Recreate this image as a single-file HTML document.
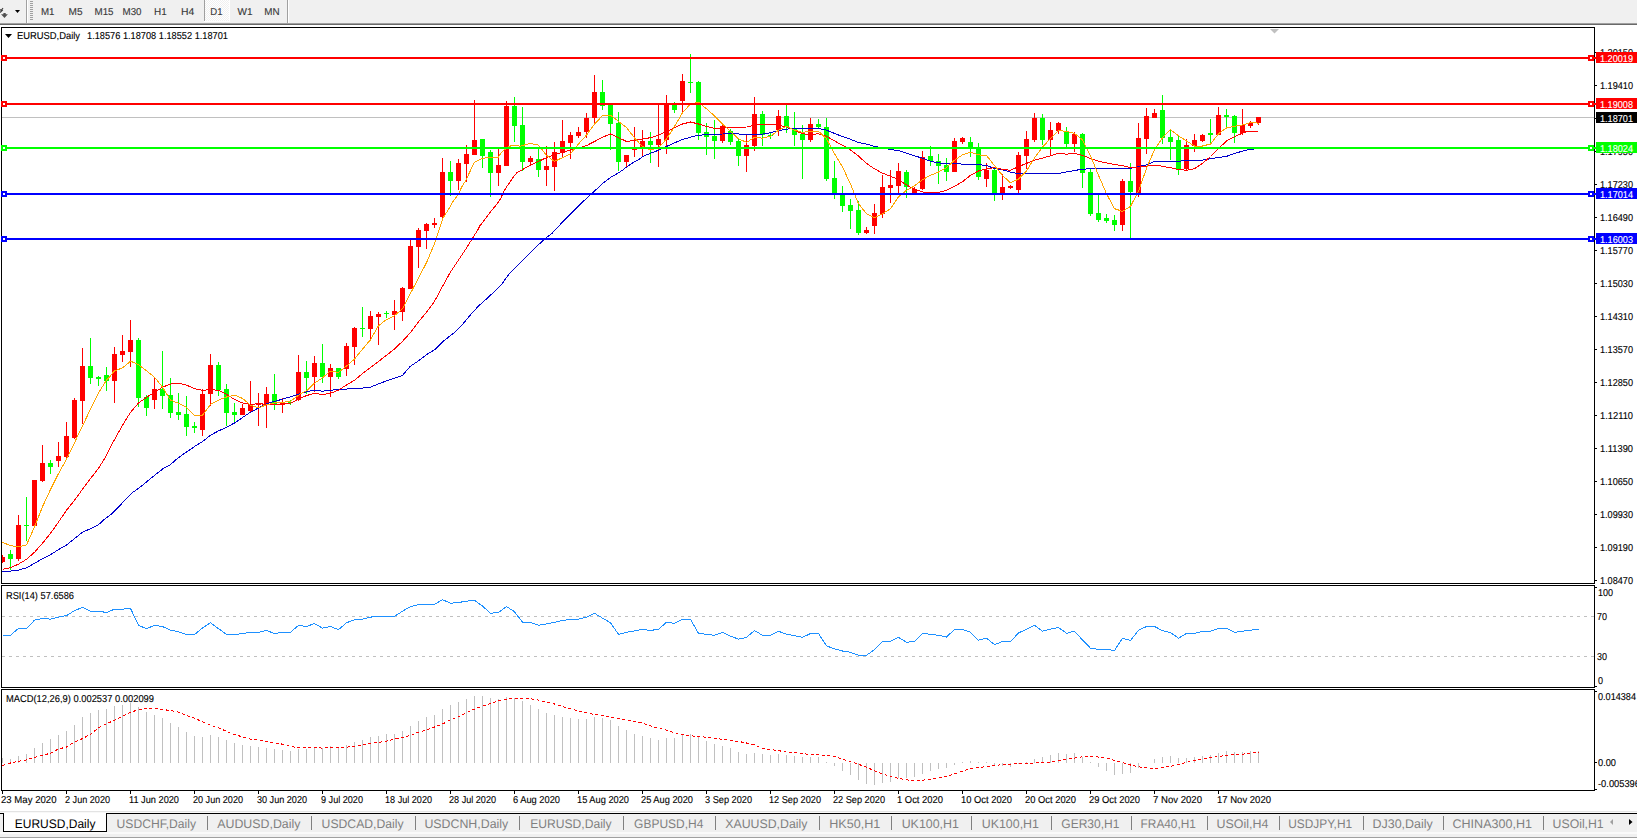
<!DOCTYPE html>
<html><head><meta charset="utf-8"><title>EURUSD,Daily</title>
<style>html,body{margin:0;padding:0;background:#fff;overflow:hidden}svg{display:block}text{font-family:"Liberation Sans",sans-serif;white-space:pre;text-rendering:geometricPrecision}</style></head><body>
<svg width="1637" height="838" viewBox="0 0 1637 838">
<rect x="0" y="0" width="1637" height="838" fill="#fff"/>
<g shape-rendering="crispEdges">
<rect x="0" y="0" width="1637" height="23" fill="#f0f0f0"/>
<rect x="0" y="23" width="1637" height="1" fill="#a0a0a0"/>
<rect x="0" y="24" width="1637" height="1" fill="#696969"/>
<rect x="26" y="0" width="1" height="23" fill="#a0a0a0"/>
<rect x="27" y="0" width="1" height="23" fill="#fff"/>
<rect x="30" y="1" width="3" height="1" fill="#a0a0a0"/>
<rect x="30" y="3" width="3" height="1" fill="#a0a0a0"/>
<rect x="30" y="5" width="3" height="1" fill="#a0a0a0"/>
<rect x="30" y="7" width="3" height="1" fill="#a0a0a0"/>
<rect x="30" y="9" width="3" height="1" fill="#a0a0a0"/>
<rect x="30" y="11" width="3" height="1" fill="#a0a0a0"/>
<rect x="30" y="13" width="3" height="1" fill="#a0a0a0"/>
<rect x="30" y="15" width="3" height="1" fill="#a0a0a0"/>
<rect x="30" y="17" width="3" height="1" fill="#a0a0a0"/>
<rect x="30" y="19" width="3" height="1" fill="#a0a0a0"/>
<rect x="204" y="0" width="1" height="21" fill="#a0a0a0"/>
<rect x="205" y="0" width="24" height="21" fill="#f0f0f0"/>
<pattern id="chk" x="205" y="0" width="2" height="2" patternUnits="userSpaceOnUse"><rect x="0" y="0" width="1" height="1" fill="#fff"/><rect x="1" y="1" width="1" height="1" fill="#fff"/></pattern>
<rect x="205" y="0" width="24" height="21" fill="url(#chk)"/>
<rect x="229" y="0" width="1" height="22" fill="#fff"/>
<rect x="204" y="21" width="26" height="1" fill="#fff"/>
<rect x="287" y="0" width="1" height="23" fill="#a0a0a0"/>
<rect x="288" y="0" width="1" height="23" fill="#fff"/>
<polygon points="15,10 20,10 17.5,13" fill="#000" shape-rendering="auto"/>
<polygon points="3.4,13 5.7,13 5.7,14.2 7.9,14.2 4.5,18 1,14.2 3.4,14.2" fill="#505050" shape-rendering="auto"/>
<path d="M0,9.5 L1.2,10.5 L3,8.2 M0,12.5 L2.8,9.8" stroke="#404040" stroke-width="1.2" fill="none" shape-rendering="auto"/>
</g>
<text x="41.0" y="15" font-size="10" fill="#383838" stroke="#383838" stroke-width="0.12" textLength="13.5" lengthAdjust="spacingAndGlyphs">M1</text>
<text x="68.5" y="15" font-size="10" fill="#383838" stroke="#383838" stroke-width="0.12" textLength="14" lengthAdjust="spacingAndGlyphs">M5</text>
<text x="94.5" y="15" font-size="10" fill="#383838" stroke="#383838" stroke-width="0.12" textLength="19" lengthAdjust="spacingAndGlyphs">M15</text>
<text x="122.5" y="15" font-size="10" fill="#383838" stroke="#383838" stroke-width="0.12" textLength="19" lengthAdjust="spacingAndGlyphs">M30</text>
<text x="154.0" y="15" font-size="10" fill="#383838" stroke="#383838" stroke-width="0.12" textLength="12.7" lengthAdjust="spacingAndGlyphs">H1</text>
<text x="181.0" y="15" font-size="10" fill="#383838" stroke="#383838" stroke-width="0.12" textLength="13.3" lengthAdjust="spacingAndGlyphs">H4</text>
<text x="210.3" y="15" font-size="10" fill="#383838" stroke="#383838" stroke-width="0.12" textLength="12.2" lengthAdjust="spacingAndGlyphs">D1</text>
<text x="237.5" y="15" font-size="10" fill="#383838" stroke="#383838" stroke-width="0.12" textLength="15" lengthAdjust="spacingAndGlyphs">W1</text>
<text x="264.2" y="15" font-size="10" fill="#383838" stroke="#383838" stroke-width="0.12" textLength="15.3" lengthAdjust="spacingAndGlyphs">MN</text>
<g shape-rendering="crispEdges">
<rect x="1" y="27" width="1594" height="1" fill="#000"/>
<rect x="1" y="27" width="1" height="764" fill="#000"/>
<rect x="1594" y="27" width="1" height="764" fill="#000"/>
<rect x="1" y="583" width="1594" height="1" fill="#000"/>
<rect x="1" y="585" width="1594" height="1" fill="#000"/>
<rect x="1" y="687" width="1594" height="1" fill="#000"/>
<rect x="1" y="689" width="1594" height="1" fill="#000"/>
<rect x="1" y="790" width="1594" height="1" fill="#000"/>
<rect x="0" y="584" width="1637" height="1" fill="#fff"/>
<rect x="0" y="688" width="1637" height="1" fill="#fff"/>
<rect x="1595" y="52" width="2" height="1" fill="#000"/>
<rect x="1595" y="85" width="2" height="1" fill="#000"/>
<rect x="1595" y="118" width="2" height="1" fill="#000"/>
<rect x="1595" y="151" width="2" height="1" fill="#000"/>
<rect x="1595" y="184" width="2" height="1" fill="#000"/>
<rect x="1595" y="217" width="2" height="1" fill="#000"/>
<rect x="1595" y="250" width="2" height="1" fill="#000"/>
<rect x="1595" y="283" width="2" height="1" fill="#000"/>
<rect x="1595" y="316" width="2" height="1" fill="#000"/>
<rect x="1595" y="349" width="2" height="1" fill="#000"/>
<rect x="1595" y="382" width="2" height="1" fill="#000"/>
<rect x="1595" y="415" width="2" height="1" fill="#000"/>
<rect x="1595" y="448" width="2" height="1" fill="#000"/>
<rect x="1595" y="481" width="2" height="1" fill="#000"/>
<rect x="1595" y="514" width="2" height="1" fill="#000"/>
<rect x="1595" y="547" width="2" height="1" fill="#000"/>
<rect x="1595" y="580" width="2" height="1" fill="#000"/>
<rect x="1595" y="587" width="2" height="1" fill="#000"/>
<rect x="1595" y="686" width="2" height="1" fill="#000"/>
<rect x="1595" y="691" width="2" height="1" fill="#000"/>
<rect x="1595" y="762" width="2" height="1" fill="#000"/>
<rect x="1595" y="789" width="2" height="1" fill="#000"/>
<rect x="2" y="791" width="1" height="3" fill="#000"/>
<rect x="66" y="791" width="1" height="3" fill="#000"/>
<rect x="130" y="791" width="1" height="3" fill="#000"/>
<rect x="194" y="791" width="1" height="3" fill="#000"/>
<rect x="258" y="791" width="1" height="3" fill="#000"/>
<rect x="322" y="791" width="1" height="3" fill="#000"/>
<rect x="386" y="791" width="1" height="3" fill="#000"/>
<rect x="450" y="791" width="1" height="3" fill="#000"/>
<rect x="514" y="791" width="1" height="3" fill="#000"/>
<rect x="578" y="791" width="1" height="3" fill="#000"/>
<rect x="642" y="791" width="1" height="3" fill="#000"/>
<rect x="706" y="791" width="1" height="3" fill="#000"/>
<rect x="770" y="791" width="1" height="3" fill="#000"/>
<rect x="834" y="791" width="1" height="3" fill="#000"/>
<rect x="898" y="791" width="1" height="3" fill="#000"/>
<rect x="962" y="791" width="1" height="3" fill="#000"/>
<rect x="1026" y="791" width="1" height="3" fill="#000"/>
<rect x="1090" y="791" width="1" height="3" fill="#000"/>
<rect x="1154" y="791" width="1" height="3" fill="#000"/>
<rect x="1218" y="791" width="1" height="3" fill="#000"/>
</g>
<text x="1600" y="56" font-size="10" fill="#000" stroke="#000" stroke-width="0.12" textLength="33" lengthAdjust="spacingAndGlyphs">1.20150</text>
<text x="1600" y="89" font-size="10" fill="#000" stroke="#000" stroke-width="0.12" textLength="33" lengthAdjust="spacingAndGlyphs">1.19410</text>
<text x="1600" y="122" font-size="10" fill="#000" stroke="#000" stroke-width="0.12" textLength="33" lengthAdjust="spacingAndGlyphs">1.18690</text>
<text x="1600" y="155" font-size="10" fill="#000" stroke="#000" stroke-width="0.12" textLength="33" lengthAdjust="spacingAndGlyphs">1.17950</text>
<text x="1600" y="188" font-size="10" fill="#000" stroke="#000" stroke-width="0.12" textLength="33" lengthAdjust="spacingAndGlyphs">1.17230</text>
<text x="1600" y="221" font-size="10" fill="#000" stroke="#000" stroke-width="0.12" textLength="33" lengthAdjust="spacingAndGlyphs">1.16490</text>
<text x="1600" y="254" font-size="10" fill="#000" stroke="#000" stroke-width="0.12" textLength="33" lengthAdjust="spacingAndGlyphs">1.15770</text>
<text x="1600" y="287" font-size="10" fill="#000" stroke="#000" stroke-width="0.12" textLength="33" lengthAdjust="spacingAndGlyphs">1.15030</text>
<text x="1600" y="320" font-size="10" fill="#000" stroke="#000" stroke-width="0.12" textLength="33" lengthAdjust="spacingAndGlyphs">1.14310</text>
<text x="1600" y="353" font-size="10" fill="#000" stroke="#000" stroke-width="0.12" textLength="33" lengthAdjust="spacingAndGlyphs">1.13570</text>
<text x="1600" y="386" font-size="10" fill="#000" stroke="#000" stroke-width="0.12" textLength="33" lengthAdjust="spacingAndGlyphs">1.12850</text>
<text x="1600" y="419" font-size="10" fill="#000" stroke="#000" stroke-width="0.12" textLength="33" lengthAdjust="spacingAndGlyphs">1.12110</text>
<text x="1600" y="452" font-size="10" fill="#000" stroke="#000" stroke-width="0.12" textLength="33" lengthAdjust="spacingAndGlyphs">1.11390</text>
<text x="1600" y="485" font-size="10" fill="#000" stroke="#000" stroke-width="0.12" textLength="33" lengthAdjust="spacingAndGlyphs">1.10650</text>
<text x="1600" y="518" font-size="10" fill="#000" stroke="#000" stroke-width="0.12" textLength="33" lengthAdjust="spacingAndGlyphs">1.09930</text>
<text x="1600" y="551" font-size="10" fill="#000" stroke="#000" stroke-width="0.12" textLength="33" lengthAdjust="spacingAndGlyphs">1.09190</text>
<text x="1600" y="584" font-size="10" fill="#000" stroke="#000" stroke-width="0.12" textLength="33" lengthAdjust="spacingAndGlyphs">1.08470</text>
<clipPath id="cm"><rect x="2" y="28" width="1592" height="555"/></clipPath>
<g clip-path="url(#cm)" shape-rendering="crispEdges">
<rect x="2" y="117" width="1592" height="1" fill="#c0c0c0"/>
<rect x="2" y="555" width="1" height="8" fill="#ff0000"/>
<rect x="0" y="557" width="5" height="5" fill="#ff0000"/>
<rect x="10" y="550" width="1" height="20" fill="#00ff00"/>
<rect x="8" y="554" width="5" height="5" fill="#00ff00"/>
<rect x="18" y="515" width="1" height="46" fill="#ff0000"/>
<rect x="16" y="525" width="5" height="34" fill="#ff0000"/>
<rect x="26" y="497" width="1" height="44" fill="#00ff00"/>
<rect x="24" y="525" width="5" height="1" fill="#00ff00"/>
<rect x="34" y="480" width="1" height="47" fill="#ff0000"/>
<rect x="32" y="480" width="5" height="46" fill="#ff0000"/>
<rect x="42" y="445" width="1" height="37" fill="#ff0000"/>
<rect x="40" y="463" width="5" height="18" fill="#ff0000"/>
<rect x="50" y="460" width="1" height="14" fill="#00ff00"/>
<rect x="48" y="463" width="5" height="4" fill="#00ff00"/>
<rect x="58" y="442" width="1" height="25" fill="#ff0000"/>
<rect x="56" y="456" width="5" height="5" fill="#ff0000"/>
<rect x="66" y="422" width="1" height="36" fill="#ff0000"/>
<rect x="64" y="436" width="5" height="21" fill="#ff0000"/>
<rect x="74" y="398" width="1" height="41" fill="#ff0000"/>
<rect x="72" y="400" width="5" height="38" fill="#ff0000"/>
<rect x="82" y="348" width="1" height="76" fill="#ff0000"/>
<rect x="80" y="366" width="5" height="35" fill="#ff0000"/>
<rect x="90" y="338" width="1" height="46" fill="#00ff00"/>
<rect x="88" y="366" width="5" height="12" fill="#00ff00"/>
<rect x="98" y="376" width="1" height="10" fill="#00ff00"/>
<rect x="96" y="377" width="5" height="2" fill="#00ff00"/>
<rect x="106" y="367" width="1" height="24" fill="#00ff00"/>
<rect x="104" y="375" width="5" height="6" fill="#00ff00"/>
<rect x="114" y="347" width="1" height="56" fill="#ff0000"/>
<rect x="112" y="354" width="5" height="27" fill="#ff0000"/>
<rect x="122" y="335" width="1" height="27" fill="#ff0000"/>
<rect x="120" y="351" width="5" height="4" fill="#ff0000"/>
<rect x="130" y="320" width="1" height="47" fill="#ff0000"/>
<rect x="128" y="340" width="5" height="12" fill="#ff0000"/>
<rect x="138" y="338" width="1" height="69" fill="#00ff00"/>
<rect x="136" y="340" width="5" height="58" fill="#00ff00"/>
<rect x="146" y="395" width="1" height="21" fill="#00ff00"/>
<rect x="144" y="397" width="5" height="11" fill="#00ff00"/>
<rect x="154" y="378" width="1" height="31" fill="#ff0000"/>
<rect x="152" y="389" width="5" height="11" fill="#ff0000"/>
<rect x="162" y="351" width="1" height="58" fill="#00ff00"/>
<rect x="160" y="389" width="5" height="7" fill="#00ff00"/>
<rect x="170" y="378" width="1" height="40" fill="#00ff00"/>
<rect x="168" y="395" width="5" height="18" fill="#00ff00"/>
<rect x="178" y="393" width="1" height="27" fill="#00ff00"/>
<rect x="176" y="412" width="5" height="3" fill="#00ff00"/>
<rect x="186" y="396" width="1" height="40" fill="#00ff00"/>
<rect x="184" y="414" width="5" height="13" fill="#00ff00"/>
<rect x="194" y="422" width="1" height="11" fill="#00ff00"/>
<rect x="192" y="426" width="5" height="2" fill="#00ff00"/>
<rect x="202" y="389" width="1" height="47" fill="#ff0000"/>
<rect x="200" y="394" width="5" height="36" fill="#ff0000"/>
<rect x="210" y="354" width="1" height="52" fill="#ff0000"/>
<rect x="208" y="365" width="5" height="29" fill="#ff0000"/>
<rect x="218" y="362" width="1" height="34" fill="#00ff00"/>
<rect x="216" y="365" width="5" height="25" fill="#00ff00"/>
<rect x="226" y="384" width="1" height="42" fill="#00ff00"/>
<rect x="224" y="389" width="5" height="24" fill="#00ff00"/>
<rect x="234" y="403" width="1" height="20" fill="#00ff00"/>
<rect x="232" y="412" width="5" height="3" fill="#00ff00"/>
<rect x="242" y="404" width="1" height="11" fill="#ff0000"/>
<rect x="240" y="408" width="5" height="7" fill="#ff0000"/>
<rect x="250" y="381" width="1" height="31" fill="#ff0000"/>
<rect x="248" y="404" width="5" height="7" fill="#ff0000"/>
<rect x="258" y="393" width="1" height="33" fill="#ff0000"/>
<rect x="256" y="403" width="5" height="2" fill="#ff0000"/>
<rect x="266" y="387" width="1" height="41" fill="#ff0000"/>
<rect x="264" y="394" width="5" height="10" fill="#ff0000"/>
<rect x="274" y="374" width="1" height="36" fill="#00ff00"/>
<rect x="272" y="394" width="5" height="10" fill="#00ff00"/>
<rect x="282" y="398" width="1" height="15" fill="#ff0000"/>
<rect x="280" y="402" width="5" height="3" fill="#ff0000"/>
<rect x="290" y="400" width="1" height="5" fill="#00ff00"/>
<rect x="288" y="402" width="5" height="1" fill="#00ff00"/>
<rect x="298" y="355" width="1" height="46" fill="#ff0000"/>
<rect x="296" y="372" width="5" height="28" fill="#ff0000"/>
<rect x="306" y="361" width="1" height="33" fill="#00ff00"/>
<rect x="304" y="372" width="5" height="6" fill="#00ff00"/>
<rect x="314" y="356" width="1" height="36" fill="#ff0000"/>
<rect x="312" y="363" width="5" height="14" fill="#ff0000"/>
<rect x="322" y="344" width="1" height="39" fill="#00ff00"/>
<rect x="320" y="363" width="5" height="14" fill="#00ff00"/>
<rect x="330" y="364" width="1" height="33" fill="#ff0000"/>
<rect x="328" y="368" width="5" height="9" fill="#ff0000"/>
<rect x="338" y="368" width="1" height="11" fill="#00ff00"/>
<rect x="336" y="368" width="5" height="9" fill="#00ff00"/>
<rect x="346" y="343" width="1" height="33" fill="#ff0000"/>
<rect x="344" y="346" width="5" height="23" fill="#ff0000"/>
<rect x="354" y="327" width="1" height="38" fill="#ff0000"/>
<rect x="352" y="328" width="5" height="19" fill="#ff0000"/>
<rect x="362" y="307" width="1" height="30" fill="#00ff00"/>
<rect x="360" y="328" width="5" height="1" fill="#00ff00"/>
<rect x="370" y="311" width="1" height="28" fill="#ff0000"/>
<rect x="368" y="316" width="5" height="13" fill="#ff0000"/>
<rect x="378" y="312" width="1" height="33" fill="#ff0000"/>
<rect x="376" y="314" width="5" height="3" fill="#ff0000"/>
<rect x="386" y="311" width="1" height="7" fill="#00ff00"/>
<rect x="384" y="313" width="5" height="1" fill="#00ff00"/>
<rect x="394" y="300" width="1" height="30" fill="#ff0000"/>
<rect x="392" y="311" width="5" height="4" fill="#ff0000"/>
<rect x="402" y="287" width="1" height="34" fill="#ff0000"/>
<rect x="400" y="288" width="5" height="24" fill="#ff0000"/>
<rect x="410" y="239" width="1" height="50" fill="#ff0000"/>
<rect x="408" y="246" width="5" height="43" fill="#ff0000"/>
<rect x="418" y="228" width="1" height="40" fill="#ff0000"/>
<rect x="416" y="230" width="5" height="17" fill="#ff0000"/>
<rect x="426" y="223" width="1" height="26" fill="#ff0000"/>
<rect x="424" y="224" width="5" height="7" fill="#ff0000"/>
<rect x="434" y="218" width="1" height="10" fill="#ff0000"/>
<rect x="432" y="223" width="5" height="2" fill="#ff0000"/>
<rect x="442" y="158" width="1" height="60" fill="#ff0000"/>
<rect x="440" y="172" width="5" height="45" fill="#ff0000"/>
<rect x="450" y="161" width="1" height="35" fill="#00ff00"/>
<rect x="448" y="172" width="5" height="9" fill="#00ff00"/>
<rect x="458" y="159" width="1" height="31" fill="#ff0000"/>
<rect x="456" y="163" width="5" height="18" fill="#ff0000"/>
<rect x="466" y="145" width="1" height="37" fill="#ff0000"/>
<rect x="464" y="154" width="5" height="10" fill="#ff0000"/>
<rect x="474" y="100" width="1" height="55" fill="#ff0000"/>
<rect x="472" y="140" width="5" height="15" fill="#ff0000"/>
<rect x="482" y="139" width="1" height="29" fill="#00ff00"/>
<rect x="480" y="139" width="5" height="17" fill="#00ff00"/>
<rect x="490" y="150" width="1" height="47" fill="#00ff00"/>
<rect x="488" y="152" width="5" height="21" fill="#00ff00"/>
<rect x="498" y="149" width="1" height="37" fill="#ff0000"/>
<rect x="496" y="165" width="5" height="8" fill="#ff0000"/>
<rect x="506" y="101" width="1" height="65" fill="#ff0000"/>
<rect x="504" y="106" width="5" height="60" fill="#ff0000"/>
<rect x="514" y="97" width="1" height="45" fill="#00ff00"/>
<rect x="512" y="106" width="5" height="20" fill="#00ff00"/>
<rect x="522" y="107" width="1" height="64" fill="#00ff00"/>
<rect x="520" y="125" width="5" height="37" fill="#00ff00"/>
<rect x="530" y="156" width="1" height="9" fill="#ff0000"/>
<rect x="528" y="158" width="5" height="4" fill="#ff0000"/>
<rect x="538" y="148" width="1" height="29" fill="#00ff00"/>
<rect x="536" y="159" width="5" height="11" fill="#00ff00"/>
<rect x="546" y="146" width="1" height="40" fill="#ff0000"/>
<rect x="544" y="166" width="5" height="4" fill="#ff0000"/>
<rect x="554" y="142" width="1" height="49" fill="#ff0000"/>
<rect x="552" y="152" width="5" height="15" fill="#ff0000"/>
<rect x="562" y="120" width="1" height="37" fill="#ff0000"/>
<rect x="560" y="141" width="5" height="12" fill="#ff0000"/>
<rect x="570" y="132" width="1" height="27" fill="#ff0000"/>
<rect x="568" y="135" width="5" height="8" fill="#ff0000"/>
<rect x="578" y="127" width="1" height="11" fill="#ff0000"/>
<rect x="576" y="132" width="5" height="4" fill="#ff0000"/>
<rect x="586" y="113" width="1" height="25" fill="#ff0000"/>
<rect x="584" y="118" width="5" height="14" fill="#ff0000"/>
<rect x="594" y="75" width="1" height="49" fill="#ff0000"/>
<rect x="592" y="92" width="5" height="26" fill="#ff0000"/>
<rect x="602" y="80" width="1" height="30" fill="#00ff00"/>
<rect x="600" y="92" width="5" height="14" fill="#00ff00"/>
<rect x="610" y="105" width="1" height="45" fill="#00ff00"/>
<rect x="608" y="105" width="5" height="19" fill="#00ff00"/>
<rect x="618" y="112" width="1" height="59" fill="#00ff00"/>
<rect x="616" y="123" width="5" height="39" fill="#00ff00"/>
<rect x="626" y="155" width="1" height="12" fill="#ff0000"/>
<rect x="624" y="155" width="5" height="7" fill="#ff0000"/>
<rect x="634" y="127" width="1" height="30" fill="#ff0000"/>
<rect x="632" y="149" width="5" height="1" fill="#ff0000"/>
<rect x="642" y="130" width="1" height="27" fill="#ff0000"/>
<rect x="640" y="141" width="5" height="6" fill="#ff0000"/>
<rect x="650" y="132" width="1" height="31" fill="#00ff00"/>
<rect x="648" y="141" width="5" height="4" fill="#00ff00"/>
<rect x="658" y="105" width="1" height="62" fill="#ff0000"/>
<rect x="656" y="139" width="5" height="6" fill="#ff0000"/>
<rect x="666" y="95" width="1" height="59" fill="#ff0000"/>
<rect x="664" y="104" width="5" height="36" fill="#ff0000"/>
<rect x="674" y="102" width="1" height="11" fill="#00ff00"/>
<rect x="672" y="105" width="5" height="5" fill="#00ff00"/>
<rect x="682" y="74" width="1" height="38" fill="#ff0000"/>
<rect x="680" y="81" width="5" height="20" fill="#ff0000"/>
<rect x="690" y="54" width="1" height="39" fill="#00ff00"/>
<rect x="688" y="82" width="5" height="1" fill="#00ff00"/>
<rect x="698" y="81" width="1" height="59" fill="#00ff00"/>
<rect x="696" y="82" width="5" height="51" fill="#00ff00"/>
<rect x="706" y="123" width="1" height="32" fill="#00ff00"/>
<rect x="704" y="132" width="5" height="5" fill="#00ff00"/>
<rect x="714" y="120" width="1" height="39" fill="#00ff00"/>
<rect x="712" y="136" width="5" height="5" fill="#00ff00"/>
<rect x="722" y="125" width="1" height="18" fill="#ff0000"/>
<rect x="720" y="126" width="5" height="15" fill="#ff0000"/>
<rect x="730" y="129" width="1" height="16" fill="#00ff00"/>
<rect x="728" y="131" width="5" height="11" fill="#00ff00"/>
<rect x="738" y="138" width="1" height="28" fill="#00ff00"/>
<rect x="736" y="141" width="5" height="15" fill="#00ff00"/>
<rect x="746" y="135" width="1" height="37" fill="#ff0000"/>
<rect x="744" y="145" width="5" height="11" fill="#ff0000"/>
<rect x="754" y="97" width="1" height="54" fill="#ff0000"/>
<rect x="752" y="114" width="5" height="32" fill="#ff0000"/>
<rect x="762" y="111" width="1" height="35" fill="#00ff00"/>
<rect x="760" y="114" width="5" height="21" fill="#00ff00"/>
<rect x="770" y="133" width="1" height="6" fill="#00ff00"/>
<rect x="768" y="135" width="5" height="1" fill="#00ff00"/>
<rect x="778" y="110" width="1" height="26" fill="#ff0000"/>
<rect x="776" y="116" width="5" height="14" fill="#ff0000"/>
<rect x="786" y="104" width="1" height="29" fill="#00ff00"/>
<rect x="784" y="116" width="5" height="11" fill="#00ff00"/>
<rect x="794" y="112" width="1" height="34" fill="#00ff00"/>
<rect x="792" y="129" width="5" height="6" fill="#00ff00"/>
<rect x="802" y="125" width="1" height="54" fill="#00ff00"/>
<rect x="800" y="134" width="5" height="6" fill="#00ff00"/>
<rect x="810" y="118" width="1" height="24" fill="#ff0000"/>
<rect x="808" y="124" width="5" height="16" fill="#ff0000"/>
<rect x="818" y="119" width="1" height="9" fill="#00ff00"/>
<rect x="816" y="124" width="5" height="3" fill="#00ff00"/>
<rect x="826" y="118" width="1" height="63" fill="#00ff00"/>
<rect x="824" y="127" width="5" height="52" fill="#00ff00"/>
<rect x="834" y="161" width="1" height="38" fill="#00ff00"/>
<rect x="832" y="178" width="5" height="15" fill="#00ff00"/>
<rect x="842" y="186" width="1" height="26" fill="#00ff00"/>
<rect x="840" y="194" width="5" height="12" fill="#00ff00"/>
<rect x="850" y="199" width="1" height="30" fill="#00ff00"/>
<rect x="848" y="205" width="5" height="6" fill="#00ff00"/>
<rect x="858" y="201" width="1" height="34" fill="#00ff00"/>
<rect x="856" y="210" width="5" height="23" fill="#00ff00"/>
<rect x="866" y="227" width="1" height="7" fill="#ff0000"/>
<rect x="864" y="230" width="5" height="3" fill="#ff0000"/>
<rect x="874" y="204" width="1" height="30" fill="#ff0000"/>
<rect x="872" y="213" width="5" height="13" fill="#ff0000"/>
<rect x="882" y="175" width="1" height="43" fill="#ff0000"/>
<rect x="880" y="187" width="5" height="27" fill="#ff0000"/>
<rect x="890" y="170" width="1" height="33" fill="#ff0000"/>
<rect x="888" y="185" width="5" height="3" fill="#ff0000"/>
<rect x="898" y="163" width="1" height="31" fill="#ff0000"/>
<rect x="896" y="171" width="5" height="15" fill="#ff0000"/>
<rect x="906" y="170" width="1" height="28" fill="#00ff00"/>
<rect x="904" y="172" width="5" height="15" fill="#00ff00"/>
<rect x="914" y="187" width="1" height="7" fill="#ff0000"/>
<rect x="912" y="189" width="5" height="4" fill="#ff0000"/>
<rect x="922" y="151" width="1" height="39" fill="#ff0000"/>
<rect x="920" y="157" width="5" height="32" fill="#ff0000"/>
<rect x="930" y="146" width="1" height="20" fill="#00ff00"/>
<rect x="928" y="156" width="5" height="5" fill="#00ff00"/>
<rect x="938" y="154" width="1" height="30" fill="#00ff00"/>
<rect x="936" y="161" width="5" height="5" fill="#00ff00"/>
<rect x="946" y="158" width="1" height="23" fill="#00ff00"/>
<rect x="944" y="165" width="5" height="7" fill="#00ff00"/>
<rect x="954" y="138" width="1" height="34" fill="#ff0000"/>
<rect x="952" y="141" width="5" height="31" fill="#ff0000"/>
<rect x="962" y="137" width="1" height="7" fill="#ff0000"/>
<rect x="960" y="138" width="5" height="4" fill="#ff0000"/>
<rect x="970" y="137" width="1" height="20" fill="#00ff00"/>
<rect x="968" y="142" width="5" height="6" fill="#00ff00"/>
<rect x="978" y="143" width="1" height="37" fill="#00ff00"/>
<rect x="976" y="148" width="5" height="29" fill="#00ff00"/>
<rect x="986" y="163" width="1" height="24" fill="#ff0000"/>
<rect x="984" y="170" width="5" height="9" fill="#ff0000"/>
<rect x="994" y="168" width="1" height="33" fill="#00ff00"/>
<rect x="992" y="170" width="5" height="25" fill="#00ff00"/>
<rect x="1002" y="174" width="1" height="26" fill="#ff0000"/>
<rect x="1000" y="187" width="5" height="8" fill="#ff0000"/>
<rect x="1010" y="185" width="1" height="4" fill="#ff0000"/>
<rect x="1008" y="186" width="5" height="2" fill="#ff0000"/>
<rect x="1018" y="152" width="1" height="41" fill="#ff0000"/>
<rect x="1016" y="155" width="5" height="35" fill="#ff0000"/>
<rect x="1026" y="131" width="1" height="38" fill="#ff0000"/>
<rect x="1024" y="139" width="5" height="17" fill="#ff0000"/>
<rect x="1034" y="113" width="1" height="29" fill="#ff0000"/>
<rect x="1032" y="118" width="5" height="22" fill="#ff0000"/>
<rect x="1042" y="114" width="1" height="31" fill="#00ff00"/>
<rect x="1040" y="118" width="5" height="22" fill="#00ff00"/>
<rect x="1050" y="122" width="1" height="34" fill="#ff0000"/>
<rect x="1048" y="130" width="5" height="10" fill="#ff0000"/>
<rect x="1058" y="122" width="1" height="12" fill="#ff0000"/>
<rect x="1056" y="123" width="5" height="8" fill="#ff0000"/>
<rect x="1066" y="127" width="1" height="20" fill="#00ff00"/>
<rect x="1064" y="131" width="5" height="13" fill="#00ff00"/>
<rect x="1074" y="132" width="1" height="20" fill="#ff0000"/>
<rect x="1072" y="134" width="5" height="10" fill="#ff0000"/>
<rect x="1082" y="133" width="1" height="55" fill="#00ff00"/>
<rect x="1080" y="134" width="5" height="39" fill="#00ff00"/>
<rect x="1090" y="168" width="1" height="48" fill="#00ff00"/>
<rect x="1088" y="172" width="5" height="42" fill="#00ff00"/>
<rect x="1098" y="195" width="1" height="27" fill="#00ff00"/>
<rect x="1096" y="213" width="5" height="7" fill="#00ff00"/>
<rect x="1106" y="214" width="1" height="9" fill="#00ff00"/>
<rect x="1104" y="218" width="5" height="3" fill="#00ff00"/>
<rect x="1114" y="215" width="1" height="16" fill="#00ff00"/>
<rect x="1112" y="220" width="5" height="5" fill="#00ff00"/>
<rect x="1122" y="179" width="1" height="52" fill="#ff0000"/>
<rect x="1120" y="181" width="5" height="44" fill="#ff0000"/>
<rect x="1130" y="163" width="1" height="75" fill="#00ff00"/>
<rect x="1128" y="181" width="5" height="11" fill="#00ff00"/>
<rect x="1138" y="123" width="1" height="74" fill="#ff0000"/>
<rect x="1136" y="138" width="5" height="55" fill="#ff0000"/>
<rect x="1146" y="108" width="1" height="46" fill="#ff0000"/>
<rect x="1144" y="116" width="5" height="23" fill="#ff0000"/>
<rect x="1154" y="109" width="1" height="9" fill="#ff0000"/>
<rect x="1152" y="113" width="5" height="5" fill="#ff0000"/>
<rect x="1162" y="95" width="1" height="49" fill="#00ff00"/>
<rect x="1160" y="110" width="5" height="28" fill="#00ff00"/>
<rect x="1170" y="130" width="1" height="30" fill="#00ff00"/>
<rect x="1168" y="137" width="5" height="5" fill="#00ff00"/>
<rect x="1178" y="136" width="1" height="39" fill="#00ff00"/>
<rect x="1176" y="140" width="5" height="29" fill="#00ff00"/>
<rect x="1186" y="139" width="1" height="32" fill="#ff0000"/>
<rect x="1184" y="145" width="5" height="24" fill="#ff0000"/>
<rect x="1194" y="134" width="1" height="18" fill="#ff0000"/>
<rect x="1192" y="140" width="5" height="6" fill="#ff0000"/>
<rect x="1202" y="134" width="1" height="8" fill="#ff0000"/>
<rect x="1200" y="135" width="5" height="6" fill="#ff0000"/>
<rect x="1210" y="119" width="1" height="25" fill="#00ff00"/>
<rect x="1208" y="133" width="5" height="2" fill="#00ff00"/>
<rect x="1218" y="107" width="1" height="28" fill="#ff0000"/>
<rect x="1216" y="115" width="5" height="20" fill="#ff0000"/>
<rect x="1226" y="109" width="1" height="19" fill="#00ff00"/>
<rect x="1224" y="115" width="5" height="2" fill="#00ff00"/>
<rect x="1234" y="115" width="1" height="28" fill="#00ff00"/>
<rect x="1232" y="116" width="5" height="17" fill="#00ff00"/>
<rect x="1242" y="109" width="1" height="26" fill="#ff0000"/>
<rect x="1240" y="125" width="5" height="8" fill="#ff0000"/>
<rect x="1250" y="121" width="1" height="7" fill="#ff0000"/>
<rect x="1248" y="123" width="5" height="3" fill="#ff0000"/>
<rect x="1258" y="117" width="1" height="8" fill="#ff0000"/>
<rect x="1256" y="117" width="5" height="6" fill="#ff0000"/>
</g><g clip-path="url(#cm)" shape-rendering="crispEdges">
<polyline points="2.5,572 10.4,571.1 18.4,570.2 26.5,567.8 34.5,563.3 42.5,558.7 50.6,554.7 58.4,549.6 66.5,545 74.5,538.6 82.5,532.2 90.6,528.6 98.6,524.6 104.8,519 111.9,513.6 119.1,506.5 126.2,498.7 132.2,492.8 140.6,486.8 150.1,479 157.3,473.1 164.4,467.7 170.4,464.7 176.3,459.4 183.5,454 190.7,449.2 194.4,446.6 202.5,441.6 210.5,435.2 218.5,430.9 226.5,427.3 234.5,423 242.5,417.6 250.4,412.3 258.4,408 266.4,403.9 274.3,401.4 282.5,399.2 290.4,396.8 300,393.6 306.5,391.7 314.4,390.2 322.5,391.2 330.4,390.2 338.4,389.7 346.5,389.1 354.4,388.3 362.5,388.1 370.5,387.1 378.4,384 386.5,380.9 394.4,378.2 402.5,375.4 410.4,366.2 416.7,362 426.7,354.5 435.1,349.5 443.4,341.1 455.1,332 461.8,325.3 470.2,315.2 478.5,306 486.9,298.5 500.3,286 510.3,272.6 520.3,262.6 533.4,249.5 545.1,238.6 551.8,233.6 561.8,222.8 571.8,212.7 581.8,202.7 591.9,193.5 603.6,182.6 610.3,177.6 620.3,171.8 630.3,164.3 640,158.7 642.4,156.5 650.4,153.3 658.4,150.3 666.5,146.5 674.5,142.8 682.5,139.5 690.5,137.2 698.5,135.2 706.6,134.7 714.6,134.7 722.6,134.0 730.6,133.5 738.6,134.0 746.7,134.7 754.7,134.7 762.7,134.0 770.7,132.7 778.5,130.7 786.6,129.1 794.5,128.4 802.5,128.4 810.4,128.4 818.4,128.4 826.5,130.2 834.5,133.4 842.4,136.6 850.4,139.2 858.3,142.4 866.5,144.1 874.5,146.3 882.4,147.8 890.6,149.5 898.5,150.6 906.5,153.1 914.4,155.9 922.6,158.1 930.5,161.3 938.5,162.8 946.4,163.7 954.4,163.7 962.5,164.1 970.5,164.5 978.4,164.5 986.5,165.6 994.5,168.4 1002.4,169.9 1010.4,172.0 1018.5,173.8 1026.5,173.5 1034.4,173.5 1042.4,173.5 1050.3,173.5 1058.5,173.5 1066.5,172.0 1074.4,170.5 1082.6,169.2 1090.5,168.8 1098.5,168.8 1106.4,168.4 1114.4,168.4 1122.5,168.4 1131,168.3 1138.7,166.6 1146.5,164.9 1153.4,161.9 1158.6,161.5 1162.5,161.6 1170.5,161.4 1178.5,161.4 1186.5,160.1 1194.5,160.1 1202.5,160.1 1210.5,158.7 1218.5,157.4 1226.5,156.4 1234.5,153.5 1242.5,151.1 1250.5,149.3 1253.7,149.2" fill="none" stroke="#0000cd" stroke-width="1"/>
<polyline points="2.5,569.3 10.4,567.8 18.4,564.2 26.5,559.3 34.5,552.3 42.5,543.2 50.6,533.2 58.4,522.2 66.5,510.3 74.5,500.3 82.5,489.3 90.6,478.4 98.6,468.3 106.4,455.6 113.1,442.1 119.1,431.3 122.5,425.2 130.5,412.3 138.5,403 146.5,397.3 154.5,392.3 162.5,387.2 170.5,384.1 178.4,383.2 186.4,385.1 194.4,388.7 202.5,390.4 210.5,389.4 218.5,390.4 226.5,394.4 234.5,399.4 242.5,403 250.4,404.4 258.4,403.7 266.4,404.3 274.3,404.9 282.5,403.9 290.4,403.5 300,398.4 306.5,395.6 314.4,393.3 322.5,394.5 330.4,393.3 338.4,390.2 346.5,385 354.4,380.4 362.5,373.6 370.5,367.4 378.4,361.5 386.5,355.3 394.4,349.1 402.5,341.3 410.4,332.6 418.4,321.9 426.7,311.9 434.2,301.9 441.8,287.7 450.1,272.6 458.5,260.1 466.8,247.5 473.5,236.7 477.7,230 479.9,225.8 487.4,216.1 492,210 496.8,204.4 500.6,198.7 503.5,192 506.3,187.3 509.2,183.4 514,175.8 516.8,172.9 520,171 522.3,169.7 530.3,165.2 538.4,161.4 546.4,157.7 554.4,154.7 562.4,152.2 570.4,150.2 578.5,148.1 586.5,145.6 594.5,141.5 602.5,137.2 610.6,134.0 618.6,137.7 626.6,141.5 634.4,140.3 642.4,139.0 650.4,137.7 658.4,135.2 666.5,131.5 674.5,127.7 682.5,124.0 690.5,122.0 698.5,124.0 706.6,126.5 714.6,128.5 722.6,128.2 730.6,127.2 738.6,127.2 746.7,127.0 754.7,125.2 762.7,124.5 770.7,124.5 778.5,125.2 786.6,126.9 794.5,130.2 802.5,133.8 810.4,134.4 818.4,133.8 826.5,136.2 834.5,140.9 842.4,145.2 850.4,149.9 858.3,155.9 866.5,163.4 874.5,168.8 882.4,173.1 890.6,176.3 898.5,179.6 906.5,184.9 914.4,189.2 922.6,192.0 930.5,192.9 938.5,192.4 946.4,190.3 954.4,186.4 962.5,181.7 970.5,175.3 978.4,171.0 986.5,168.8 994.5,167.7 1002.4,169.2 1010.4,170.3 1018.5,166.7 1026.5,163.4 1034.4,160.2 1042.4,158.1 1050.3,155.9 1058.5,153.1 1066.5,154.2 1074.4,153.4 1082.6,155.3 1090.5,158.5 1098.5,161.3 1106.4,162.8 1114.4,164.5 1122.5,165.6 1130.9,167.8 1136.1,167.5 1143,166.6 1153.4,165.4 1158.6,165.4 1162.5,166.4 1170.5,167.7 1178.5,169.5 1186.5,170.3 1194.5,168.6 1202.5,163.3 1210.5,156.5 1218.5,148.6 1226.5,141.0 1234.5,136.8 1242.5,133.1 1247.1,131.4 1250.5,131.4 1257.9,131.4" fill="none" stroke="#ff0000" stroke-width="1"/>
<polyline points="2.5,542.3 10.4,545.6 18.4,546.8 26.5,545 34.5,526.8 42.5,506.7 50.6,489.3 58.4,473.8 66.5,459.2 74.5,442.8 80.3,430 82.5,426 90.5,409 98.5,393 106.5,380 110,376.5 114.5,370.8 122.5,367.9 130.5,361.2 138.5,364.6 146.5,370.8 154.5,377.2 162.5,387.2 170.5,400.1 178.4,403.3 186.4,407.3 194.4,415.4 202.5,415.2 210.5,404.4 218.5,400.1 226.5,397 234.5,395.1 242.5,398.4 250.4,405.1 258.4,408 266.4,404.9 274.3,402.9 282.5,402.3 290.4,401.4 300,394 306.5,390.9 314.4,383.2 322.5,377.8 330.4,371.1 338.4,372.3 346.5,366.1 354.4,359.1 362.5,349.1 370.5,339.8 378.4,325.8 386.5,319.6 394.4,315.7 402.5,308.8 410.4,293.5 418.4,278.2 426.7,262.3 434.7,243 436.4,237.6 442.8,218.3 448.1,210 452.4,202.5 459.1,193 461.5,187.3 466.3,179.6 470.6,170.1 474.4,162.4 482,158.6 486.3,157.7 498.2,157.5 501.1,152.9 505.4,149 509.2,146.4 513,145.3 517.8,145.3 520,146.4 522.3,145.6 530.3,143.4 538.4,145.1 546.4,155.2 554.4,161.4 562.4,157.7 570.4,153.9 578.5,143.9 586.5,135.1 594.5,124.0 602.5,115.7 610.6,115.2 618.6,121.5 626.6,127.7 634.4,137.7 642.4,146.5 650.4,149.8 658.4,147.8 666.5,139.0 674.5,126.5 682.5,112.7 690.5,103.9 698.5,102.2 706.6,108.9 714.6,115.9 722.6,124.0 730.6,131.5 738.6,139.0 746.7,142.3 754.7,137.2 762.7,138.2 770.7,136.0 778.5,130.2 786.6,126.3 794.5,130.2 802.5,132.3 810.4,131.2 818.4,131.2 826.5,138.7 834.5,153.8 842.4,166.7 850.4,183.9 858.3,203.2 866.5,213.9 874.5,217.8 882.4,213.9 890.6,208.6 898.5,196.7 906.5,190.3 914.4,186.0 922.6,179.6 930.5,175.3 938.5,172.0 946.4,167.7 954.4,160.2 962.5,154.9 970.5,152.3 978.4,154.9 986.5,155.5 994.5,165.6 1002.4,175.3 1010.4,182.8 1018.5,179.1 1026.5,171.0 1034.4,158.1 1042.4,147.3 1050.3,138.7 1058.5,130.8 1066.5,131.2 1074.4,133.4 1082.6,139.8 1090.5,155.9 1098.5,175.3 1106.4,193.5 1114.4,208.6 1122.5,211.4 1130.5,206.4 1138.4,191.4 1146.4,168.8 1154.5,149.6 1162.5,137.7 1170.5,129.6 1178.5,135.8 1186.5,141.0 1194.5,146.0 1202.5,146.0 1210.5,144.0 1218.5,133.8 1226.5,127.9 1234.5,126.3 1242.5,124.9 1250.5,122.7 1255.0,122.3 1258.5,123.7" fill="none" stroke="#ffa500" stroke-width="1"/>
<rect x="2" y="57" width="1592" height="2" fill="#ff0000"/>
<rect x="2" y="103" width="1592" height="2" fill="#ff0000"/>
<rect x="2" y="147" width="1592" height="2" fill="#00ff00"/>
<rect x="2" y="193" width="1592" height="2" fill="#0000ff"/>
<rect x="2" y="238" width="1592" height="2" fill="#0000ff"/>
</g>
<g shape-rendering="crispEdges">
<rect x="1" y="55" width="6" height="6" fill="#ff0000"/>
<rect x="3" y="57" width="2" height="2" fill="#fff"/>
<rect x="1588" y="55" width="6" height="6" fill="#ff0000"/>
<rect x="1590" y="57" width="2" height="2" fill="#fff"/>
<rect x="1594" y="57" width="2" height="2" fill="#ff0000"/>
<rect x="1596" y="52" width="41" height="11" fill="#ff0000"/>
<rect x="1" y="101" width="6" height="6" fill="#ff0000"/>
<rect x="3" y="103" width="2" height="2" fill="#fff"/>
<rect x="1588" y="101" width="6" height="6" fill="#ff0000"/>
<rect x="1590" y="103" width="2" height="2" fill="#fff"/>
<rect x="1594" y="103" width="2" height="2" fill="#ff0000"/>
<rect x="1596" y="98" width="41" height="11" fill="#ff0000"/>
<rect x="1" y="145" width="6" height="6" fill="#00ff00"/>
<rect x="3" y="147" width="2" height="2" fill="#fff"/>
<rect x="1588" y="145" width="6" height="6" fill="#00ff00"/>
<rect x="1590" y="147" width="2" height="2" fill="#fff"/>
<rect x="1594" y="147" width="2" height="2" fill="#00ff00"/>
<rect x="1596" y="142" width="41" height="11" fill="#00ff00"/>
<rect x="1" y="191" width="6" height="6" fill="#0000ff"/>
<rect x="3" y="193" width="2" height="2" fill="#fff"/>
<rect x="1588" y="191" width="6" height="6" fill="#0000ff"/>
<rect x="1590" y="193" width="2" height="2" fill="#fff"/>
<rect x="1594" y="193" width="2" height="2" fill="#0000ff"/>
<rect x="1596" y="188" width="41" height="11" fill="#0000ff"/>
<rect x="1" y="236" width="6" height="6" fill="#0000ff"/>
<rect x="3" y="238" width="2" height="2" fill="#fff"/>
<rect x="1588" y="236" width="6" height="6" fill="#0000ff"/>
<rect x="1590" y="238" width="2" height="2" fill="#fff"/>
<rect x="1594" y="238" width="2" height="2" fill="#0000ff"/>
<rect x="1596" y="233" width="41" height="11" fill="#0000ff"/>
<rect x="1596" y="112" width="41" height="11" fill="#000"/>
</g>
<text x="1600" y="62" font-size="10" fill="#fff" stroke="#fff" stroke-width="0.12" textLength="33" lengthAdjust="spacingAndGlyphs">1.20019</text>
<text x="1600" y="108" font-size="10" fill="#fff" stroke="#fff" stroke-width="0.12" textLength="33" lengthAdjust="spacingAndGlyphs">1.19008</text>
<text x="1600" y="152" font-size="10" fill="#fff" stroke="#fff" stroke-width="0.12" textLength="33" lengthAdjust="spacingAndGlyphs">1.18024</text>
<text x="1600" y="198" font-size="10" fill="#fff" stroke="#fff" stroke-width="0.12" textLength="33" lengthAdjust="spacingAndGlyphs">1.17014</text>
<text x="1600" y="243" font-size="10" fill="#fff" stroke="#fff" stroke-width="0.12" textLength="33" lengthAdjust="spacingAndGlyphs">1.16003</text>
<text x="1600" y="122" font-size="10" fill="#fff" stroke="#fff" stroke-width="0.12" textLength="33" lengthAdjust="spacingAndGlyphs">1.18701</text>
<polygon points="1270,29 1279,29 1274.5,33.5" fill="#c0c0c0"/>
<polygon points="5,34 12,34 8.5,38" fill="#000"/>
<text x="17" y="39" font-size="10" fill="#000" stroke="#000" stroke-width="0.12" textLength="63" lengthAdjust="spacingAndGlyphs">EURUSD,Daily</text>
<text x="87" y="39" font-size="10" fill="#000" stroke="#000" stroke-width="0.12" textLength="141" lengthAdjust="spacingAndGlyphs">1.18576 1.18708 1.18552 1.18701</text>
<g shape-rendering="crispEdges">
<line x1="2" y1="616.5" x2="1594" y2="616.5" stroke="#c0c0c0" stroke-width="1" stroke-dasharray="3 4"/>
<line x1="2" y1="656.5" x2="1594" y2="656.5" stroke="#c0c0c0" stroke-width="1" stroke-dasharray="3 4"/>
</g>
<polyline points="2.5,635.3 10.5,635.3 18.5,628.4 26.5,628.4 34.5,620.2 42.5,618.4 50.5,619.2 58.5,617.1 66.5,615.6 74.5,610.7 82.5,607.4 90.5,611.2 98.5,611.2 106.5,612.5 114.5,609.2 122.5,609.2 130.5,608.4 138.5,625.3 146.5,628.7 154.5,625.3 162.5,626.6 170.5,630.2 178.5,631.7 186.5,634.6 194.5,634.6 202.5,627.9 210.5,622.8 218.5,628.7 226.5,634.3 234.5,634.6 242.5,633.5 250.5,632.3 258.5,632.3 266.5,630.5 274.5,633.5 282.5,632.3 290.5,632.3 298.5,625.3 306.5,626.6 314.5,623.5 322.5,628.2 330.5,626.4 338.5,629.7 346.5,622.8 354.5,619.7 362.5,619.2 370.5,617.1 378.5,616.4 386.5,616.4 394.5,616.4 402.5,611.2 410.5,606.6 418.5,604.5 426.5,604.5 434.5,604.3 442.5,599.7 450.5,603.3 458.5,602.5 466.5,601.2 474.5,600.4 482.5,606.1 490.5,613.3 498.5,612.5 506.5,606.6 514.5,611.7 522.5,622.3 530.5,622.5 538.5,625.3 546.5,624.0 554.5,622.3 562.5,620.5 570.5,619.4 578.5,619.2 586.5,617.1 594.5,613.3 602.5,618.1 610.5,622.8 618.5,634.3 626.5,632.3 634.5,631.0 642.5,629.2 650.5,630.5 658.5,629.2 666.5,622.3 674.5,623.3 682.5,619.4 690.5,619.4 698.5,633.3 706.5,634.3 714.5,635.3 722.5,632.3 730.5,636.1 738.5,639.2 746.5,637.4 754.5,630.5 762.5,635.3 770.5,635.3 778.5,631.2 786.5,634.3 794.5,635.6 802.5,637.4 810.5,633.5 818.5,633.5 826.5,645.9 834.5,648.9 842.5,651.0 850.5,652.3 858.5,655.3 866.5,655.3 874.5,649.7 882.5,641.5 890.5,641.2 898.5,637.4 906.5,642.3 914.5,641.5 922.5,633.5 930.5,634.3 938.5,635.3 946.5,637.1 954.5,629.4 962.5,629.4 970.5,632.3 978.5,640.2 986.5,638.2 994.5,644.6 1002.5,641.5 1010.5,641.5 1018.5,633.0 1026.5,629.2 1034.5,625.3 1042.5,631.2 1050.5,629.2 1058.5,627.4 1066.5,633.3 1074.5,631.2 1082.5,640.0 1090.5,648.2 1098.5,649.4 1106.5,649.4 1114.5,650.5 1122.5,638.2 1130.5,640.5 1138.5,630.2 1146.5,626.6 1154.5,626.4 1162.5,630.7 1170.5,632.5 1178.5,638.2 1186.5,633.5 1194.5,633.3 1202.5,631.5 1210.5,631.2 1218.5,628.4 1226.5,628.4 1234.5,632.3 1242.5,631.2 1250.5,630.2 1258.5,629.2" fill="none" stroke="#1e90ff" stroke-width="1" shape-rendering="crispEdges"/>
<text x="6" y="599" font-size="10" fill="#000" stroke="#000" stroke-width="0.12" textLength="68" lengthAdjust="spacingAndGlyphs">RSI(14) 57.6586</text>
<text x="1598" y="596" font-size="10" fill="#000" stroke="#000" stroke-width="0.12" textLength="15" lengthAdjust="spacingAndGlyphs">100</text>
<text x="1597" y="620" font-size="10" fill="#000" stroke="#000" stroke-width="0.12" textLength="10" lengthAdjust="spacingAndGlyphs">70</text>
<text x="1597" y="660" font-size="10" fill="#000" stroke="#000" stroke-width="0.12" textLength="10" lengthAdjust="spacingAndGlyphs">30</text>
<text x="1598" y="684" font-size="10" fill="#000" stroke="#000" stroke-width="0.12" textLength="5" lengthAdjust="spacingAndGlyphs">0</text>
<g shape-rendering="crispEdges">
<rect x="2" y="758" width="1" height="5" fill="#c0c0c0"/>
<rect x="10" y="759" width="1" height="4" fill="#c0c0c0"/>
<rect x="18" y="756" width="1" height="7" fill="#c0c0c0"/>
<rect x="26" y="754" width="1" height="9" fill="#c0c0c0"/>
<rect x="34" y="748" width="1" height="15" fill="#c0c0c0"/>
<rect x="42" y="743" width="1" height="20" fill="#c0c0c0"/>
<rect x="50" y="739" width="1" height="24" fill="#c0c0c0"/>
<rect x="58" y="735" width="1" height="28" fill="#c0c0c0"/>
<rect x="66" y="731" width="1" height="32" fill="#c0c0c0"/>
<rect x="74" y="725" width="1" height="38" fill="#c0c0c0"/>
<rect x="82" y="717" width="1" height="46" fill="#c0c0c0"/>
<rect x="90" y="713" width="1" height="50" fill="#c0c0c0"/>
<rect x="98" y="710" width="1" height="53" fill="#c0c0c0"/>
<rect x="106" y="709" width="1" height="54" fill="#c0c0c0"/>
<rect x="114" y="706" width="1" height="57" fill="#c0c0c0"/>
<rect x="122" y="705" width="1" height="58" fill="#c0c0c0"/>
<rect x="130" y="703" width="1" height="60" fill="#c0c0c0"/>
<rect x="138" y="707" width="1" height="56" fill="#c0c0c0"/>
<rect x="146" y="712" width="1" height="51" fill="#c0c0c0"/>
<rect x="154" y="715" width="1" height="48" fill="#c0c0c0"/>
<rect x="162" y="718" width="1" height="45" fill="#c0c0c0"/>
<rect x="170" y="723" width="1" height="40" fill="#c0c0c0"/>
<rect x="178" y="727" width="1" height="36" fill="#c0c0c0"/>
<rect x="186" y="732" width="1" height="31" fill="#c0c0c0"/>
<rect x="194" y="736" width="1" height="27" fill="#c0c0c0"/>
<rect x="202" y="737" width="1" height="26" fill="#c0c0c0"/>
<rect x="210" y="735" width="1" height="28" fill="#c0c0c0"/>
<rect x="218" y="737" width="1" height="26" fill="#c0c0c0"/>
<rect x="226" y="740" width="1" height="23" fill="#c0c0c0"/>
<rect x="234" y="743" width="1" height="20" fill="#c0c0c0"/>
<rect x="242" y="745" width="1" height="18" fill="#c0c0c0"/>
<rect x="250" y="746" width="1" height="17" fill="#c0c0c0"/>
<rect x="258" y="747" width="1" height="16" fill="#c0c0c0"/>
<rect x="266" y="748" width="1" height="15" fill="#c0c0c0"/>
<rect x="274" y="749" width="1" height="14" fill="#c0c0c0"/>
<rect x="282" y="750" width="1" height="13" fill="#c0c0c0"/>
<rect x="290" y="751" width="1" height="12" fill="#c0c0c0"/>
<rect x="298" y="749" width="1" height="14" fill="#c0c0c0"/>
<rect x="306" y="749" width="1" height="14" fill="#c0c0c0"/>
<rect x="314" y="747" width="1" height="16" fill="#c0c0c0"/>
<rect x="322" y="748" width="1" height="15" fill="#c0c0c0"/>
<rect x="330" y="746" width="1" height="17" fill="#c0c0c0"/>
<rect x="338" y="747" width="1" height="16" fill="#c0c0c0"/>
<rect x="346" y="745" width="1" height="18" fill="#c0c0c0"/>
<rect x="354" y="742" width="1" height="21" fill="#c0c0c0"/>
<rect x="362" y="740" width="1" height="23" fill="#c0c0c0"/>
<rect x="370" y="737" width="1" height="26" fill="#c0c0c0"/>
<rect x="378" y="736" width="1" height="27" fill="#c0c0c0"/>
<rect x="386" y="734" width="1" height="29" fill="#c0c0c0"/>
<rect x="394" y="734" width="1" height="29" fill="#c0c0c0"/>
<rect x="402" y="731" width="1" height="32" fill="#c0c0c0"/>
<rect x="410" y="726" width="1" height="37" fill="#c0c0c0"/>
<rect x="418" y="721" width="1" height="42" fill="#c0c0c0"/>
<rect x="426" y="717" width="1" height="46" fill="#c0c0c0"/>
<rect x="434" y="715" width="1" height="48" fill="#c0c0c0"/>
<rect x="442" y="709" width="1" height="54" fill="#c0c0c0"/>
<rect x="450" y="705" width="1" height="58" fill="#c0c0c0"/>
<rect x="458" y="702" width="1" height="61" fill="#c0c0c0"/>
<rect x="466" y="699" width="1" height="64" fill="#c0c0c0"/>
<rect x="474" y="696" width="1" height="67" fill="#c0c0c0"/>
<rect x="482" y="696" width="1" height="67" fill="#c0c0c0"/>
<rect x="490" y="698" width="1" height="65" fill="#c0c0c0"/>
<rect x="498" y="699" width="1" height="64" fill="#c0c0c0"/>
<rect x="506" y="697" width="1" height="66" fill="#c0c0c0"/>
<rect x="514" y="698" width="1" height="65" fill="#c0c0c0"/>
<rect x="522" y="701" width="1" height="62" fill="#c0c0c0"/>
<rect x="530" y="705" width="1" height="58" fill="#c0c0c0"/>
<rect x="538" y="709" width="1" height="54" fill="#c0c0c0"/>
<rect x="546" y="713" width="1" height="50" fill="#c0c0c0"/>
<rect x="554" y="715" width="1" height="48" fill="#c0c0c0"/>
<rect x="562" y="717" width="1" height="46" fill="#c0c0c0"/>
<rect x="570" y="718" width="1" height="45" fill="#c0c0c0"/>
<rect x="578" y="719" width="1" height="44" fill="#c0c0c0"/>
<rect x="586" y="719" width="1" height="44" fill="#c0c0c0"/>
<rect x="594" y="717" width="1" height="46" fill="#c0c0c0"/>
<rect x="602" y="718" width="1" height="45" fill="#c0c0c0"/>
<rect x="610" y="720" width="1" height="43" fill="#c0c0c0"/>
<rect x="618" y="726" width="1" height="37" fill="#c0c0c0"/>
<rect x="626" y="730" width="1" height="33" fill="#c0c0c0"/>
<rect x="634" y="734" width="1" height="29" fill="#c0c0c0"/>
<rect x="642" y="736" width="1" height="27" fill="#c0c0c0"/>
<rect x="650" y="738" width="1" height="25" fill="#c0c0c0"/>
<rect x="658" y="740" width="1" height="23" fill="#c0c0c0"/>
<rect x="666" y="738" width="1" height="25" fill="#c0c0c0"/>
<rect x="674" y="738" width="1" height="25" fill="#c0c0c0"/>
<rect x="682" y="735" width="1" height="28" fill="#c0c0c0"/>
<rect x="690" y="734" width="1" height="29" fill="#c0c0c0"/>
<rect x="698" y="737" width="1" height="26" fill="#c0c0c0"/>
<rect x="706" y="741" width="1" height="22" fill="#c0c0c0"/>
<rect x="714" y="744" width="1" height="19" fill="#c0c0c0"/>
<rect x="722" y="746" width="1" height="17" fill="#c0c0c0"/>
<rect x="730" y="748" width="1" height="15" fill="#c0c0c0"/>
<rect x="738" y="752" width="1" height="11" fill="#c0c0c0"/>
<rect x="746" y="754" width="1" height="9" fill="#c0c0c0"/>
<rect x="754" y="753" width="1" height="10" fill="#c0c0c0"/>
<rect x="762" y="754" width="1" height="9" fill="#c0c0c0"/>
<rect x="770" y="755" width="1" height="8" fill="#c0c0c0"/>
<rect x="778" y="754" width="1" height="9" fill="#c0c0c0"/>
<rect x="786" y="755" width="1" height="8" fill="#c0c0c0"/>
<rect x="794" y="756" width="1" height="7" fill="#c0c0c0"/>
<rect x="802" y="757" width="1" height="6" fill="#c0c0c0"/>
<rect x="810" y="757" width="1" height="6" fill="#c0c0c0"/>
<rect x="818" y="757" width="1" height="6" fill="#c0c0c0"/>
<rect x="826" y="762" width="1" height="1" fill="#c0c0c0"/>
<rect x="834" y="763" width="1" height="3" fill="#c0c0c0"/>
<rect x="842" y="763" width="1" height="8" fill="#c0c0c0"/>
<rect x="850" y="763" width="1" height="12" fill="#c0c0c0"/>
<rect x="858" y="763" width="1" height="17" fill="#c0c0c0"/>
<rect x="866" y="763" width="1" height="21" fill="#c0c0c0"/>
<rect x="874" y="763" width="1" height="22" fill="#c0c0c0"/>
<rect x="882" y="763" width="1" height="20" fill="#c0c0c0"/>
<rect x="890" y="763" width="1" height="19" fill="#c0c0c0"/>
<rect x="898" y="763" width="1" height="15" fill="#c0c0c0"/>
<rect x="906" y="763" width="1" height="15" fill="#c0c0c0"/>
<rect x="914" y="763" width="1" height="14" fill="#c0c0c0"/>
<rect x="922" y="763" width="1" height="11" fill="#c0c0c0"/>
<rect x="930" y="763" width="1" height="8" fill="#c0c0c0"/>
<rect x="938" y="763" width="1" height="6" fill="#c0c0c0"/>
<rect x="946" y="763" width="1" height="5" fill="#c0c0c0"/>
<rect x="954" y="763" width="1" height="2" fill="#c0c0c0"/>
<rect x="962" y="762" width="1" height="1" fill="#c0c0c0"/>
<rect x="970" y="761" width="1" height="2" fill="#c0c0c0"/>
<rect x="978" y="762" width="1" height="1" fill="#c0c0c0"/>
<rect x="986" y="762" width="1" height="1" fill="#c0c0c0"/>
<rect x="994" y="763" width="1" height="2" fill="#c0c0c0"/>
<rect x="1002" y="763" width="1" height="3" fill="#c0c0c0"/>
<rect x="1010" y="763" width="1" height="4" fill="#c0c0c0"/>
<rect x="1018" y="763" width="1" height="1" fill="#c0c0c0"/>
<rect x="1026" y="762" width="1" height="1" fill="#c0c0c0"/>
<rect x="1034" y="759" width="1" height="4" fill="#c0c0c0"/>
<rect x="1042" y="757" width="1" height="6" fill="#c0c0c0"/>
<rect x="1050" y="755" width="1" height="8" fill="#c0c0c0"/>
<rect x="1058" y="753" width="1" height="10" fill="#c0c0c0"/>
<rect x="1066" y="754" width="1" height="9" fill="#c0c0c0"/>
<rect x="1074" y="753" width="1" height="10" fill="#c0c0c0"/>
<rect x="1082" y="757" width="1" height="6" fill="#c0c0c0"/>
<rect x="1090" y="762" width="1" height="1" fill="#c0c0c0"/>
<rect x="1098" y="763" width="1" height="4" fill="#c0c0c0"/>
<rect x="1106" y="763" width="1" height="8" fill="#c0c0c0"/>
<rect x="1114" y="763" width="1" height="12" fill="#c0c0c0"/>
<rect x="1122" y="763" width="1" height="11" fill="#c0c0c0"/>
<rect x="1130" y="763" width="1" height="10" fill="#c0c0c0"/>
<rect x="1138" y="763" width="1" height="5" fill="#c0c0c0"/>
<rect x="1154" y="759" width="1" height="4" fill="#c0c0c0"/>
<rect x="1162" y="757" width="1" height="6" fill="#c0c0c0"/>
<rect x="1170" y="756" width="1" height="7" fill="#c0c0c0"/>
<rect x="1178" y="758" width="1" height="5" fill="#c0c0c0"/>
<rect x="1186" y="758" width="1" height="5" fill="#c0c0c0"/>
<rect x="1194" y="757" width="1" height="6" fill="#c0c0c0"/>
<rect x="1202" y="756" width="1" height="7" fill="#c0c0c0"/>
<rect x="1210" y="755" width="1" height="8" fill="#c0c0c0"/>
<rect x="1218" y="753" width="1" height="10" fill="#c0c0c0"/>
<rect x="1226" y="751" width="1" height="12" fill="#c0c0c0"/>
<rect x="1234" y="752" width="1" height="11" fill="#c0c0c0"/>
<rect x="1242" y="752" width="1" height="11" fill="#c0c0c0"/>
<rect x="1250" y="751" width="1" height="12" fill="#c0c0c0"/>
<rect x="1258" y="751" width="1" height="12" fill="#c0c0c0"/>
</g>
<polyline points="2.5,765.5 10.5,763.0 18.5,761.2 26.5,759.9 34.5,757.3 42.5,755.3 50.5,753.2 58.5,748.9 66.5,747.1 74.5,741.9 82.5,738.6 90.5,734.2 98.5,727.8 106.5,724.0 114.5,720.1 122.5,716.3 130.5,712.4 138.5,709.6 146.5,708.6 154.5,708.6 162.5,709.6 170.5,710.4 178.5,712.2 186.5,715.5 194.5,718.1 202.5,721.9 210.5,725.0 218.5,727.8 226.5,731.4 234.5,734.7 242.5,736.8 250.5,739.1 258.5,740.1 266.5,741.4 274.5,742.7 282.5,744.2 290.5,746.5 298.5,747.6 306.5,747.6 314.5,747.6 322.5,748.1 330.5,747.6 338.5,747.6 346.5,747.1 354.5,746.5 362.5,745.0 370.5,743.2 378.5,742.4 386.5,741.2 394.5,739.1 402.5,737.3 410.5,735.5 418.5,732.2 426.5,730.1 434.5,727.0 442.5,724.0 450.5,719.9 458.5,716.8 466.5,712.7 474.5,709.1 482.5,706.0 490.5,703.4 498.5,700.9 506.5,699.3 514.5,698.3 522.5,698.3 530.5,698.8 538.5,700.1 546.5,702.2 554.5,704.0 562.5,706.5 570.5,708.6 578.5,710.9 586.5,712.9 594.5,714.5 602.5,715.8 610.5,716.8 618.5,718.6 626.5,720.1 634.5,721.4 642.5,723.2 650.5,725.8 658.5,728.3 666.5,730.1 674.5,732.7 682.5,734.7 690.5,735.8 698.5,736.5 706.5,737.3 714.5,738.3 722.5,739.4 730.5,740.4 738.5,741.4 746.5,743.0 754.5,745.0 762.5,748.3 770.5,749.6 778.5,750.6 786.5,752.2 794.5,752.7 802.5,753.7 810.5,754.5 818.5,754.8 826.5,755.3 834.5,756.5 842.5,759.4 850.5,761.4 858.5,764.2 866.5,767.3 874.5,770.7 882.5,774.0 890.5,776.6 898.5,778.4 906.5,779.9 914.5,780.4 922.5,780.2 930.5,779.4 938.5,777.8 946.5,776.3 954.5,774.0 962.5,771.2 970.5,768.6 978.5,767.6 986.5,766.6 994.5,765.3 1002.5,764.8 1010.5,764.2 1018.5,763.7 1026.5,763.2 1034.5,763.0 1042.5,762.7 1050.5,762.2 1058.5,760.9 1066.5,759.1 1074.5,758.1 1082.5,756.8 1090.5,756.3 1098.5,757.1 1106.5,758.1 1114.5,760.4 1122.5,762.4 1130.5,765.0 1138.5,766.8 1146.5,767.8 1154.5,768.3 1162.5,767.6 1170.5,766.3 1178.5,764.5 1186.5,762.4 1194.5,760.7 1202.5,759.1 1210.5,757.8 1218.5,756.5 1226.5,755.3 1234.5,754.5 1242.5,754.2 1250.5,753.2 1258.5,752.4" fill="none" stroke="#ff0000" stroke-width="1" stroke-dasharray="3 2.5" shape-rendering="crispEdges"/>
<text x="6" y="702" font-size="10" fill="#000" stroke="#000" stroke-width="0.12" textLength="148" lengthAdjust="spacingAndGlyphs">MACD(12,26,9) 0.002537 0.002099</text>
<text x="1598" y="700" font-size="10" fill="#000" stroke="#000" stroke-width="0.12" textLength="38" lengthAdjust="spacingAndGlyphs">0.014384</text>
<text x="1598" y="766" font-size="10" fill="#000" stroke="#000" stroke-width="0.12" textLength="18" lengthAdjust="spacingAndGlyphs">0.00</text>
<text x="1598" y="787" font-size="10" fill="#000" stroke="#000" stroke-width="0.12" textLength="42" lengthAdjust="spacingAndGlyphs">-0.005396</text>
<text x="1" y="803" font-size="10" fill="#000" stroke="#000" stroke-width="0.12" textLength="55.5" lengthAdjust="spacingAndGlyphs">23 May 2020</text>
<text x="65" y="803" font-size="10" fill="#000" stroke="#000" stroke-width="0.12" textLength="45" lengthAdjust="spacingAndGlyphs">2 Jun 2020</text>
<text x="129" y="803" font-size="10" fill="#000" stroke="#000" stroke-width="0.12" textLength="50" lengthAdjust="spacingAndGlyphs">11 Jun 2020</text>
<text x="193" y="803" font-size="10" fill="#000" stroke="#000" stroke-width="0.12" textLength="50" lengthAdjust="spacingAndGlyphs">20 Jun 2020</text>
<text x="257" y="803" font-size="10" fill="#000" stroke="#000" stroke-width="0.12" textLength="50" lengthAdjust="spacingAndGlyphs">30 Jun 2020</text>
<text x="321" y="803" font-size="10" fill="#000" stroke="#000" stroke-width="0.12" textLength="42" lengthAdjust="spacingAndGlyphs">9 Jul 2020</text>
<text x="385" y="803" font-size="10" fill="#000" stroke="#000" stroke-width="0.12" textLength="47" lengthAdjust="spacingAndGlyphs">18 Jul 2020</text>
<text x="449" y="803" font-size="10" fill="#000" stroke="#000" stroke-width="0.12" textLength="47" lengthAdjust="spacingAndGlyphs">28 Jul 2020</text>
<text x="513" y="803" font-size="10" fill="#000" stroke="#000" stroke-width="0.12" textLength="47" lengthAdjust="spacingAndGlyphs">6 Aug 2020</text>
<text x="577" y="803" font-size="10" fill="#000" stroke="#000" stroke-width="0.12" textLength="52" lengthAdjust="spacingAndGlyphs">15 Aug 2020</text>
<text x="641" y="803" font-size="10" fill="#000" stroke="#000" stroke-width="0.12" textLength="52" lengthAdjust="spacingAndGlyphs">25 Aug 2020</text>
<text x="705" y="803" font-size="10" fill="#000" stroke="#000" stroke-width="0.12" textLength="47" lengthAdjust="spacingAndGlyphs">3 Sep 2020</text>
<text x="769" y="803" font-size="10" fill="#000" stroke="#000" stroke-width="0.12" textLength="52" lengthAdjust="spacingAndGlyphs">12 Sep 2020</text>
<text x="833" y="803" font-size="10" fill="#000" stroke="#000" stroke-width="0.12" textLength="52" lengthAdjust="spacingAndGlyphs">22 Sep 2020</text>
<text x="897" y="803" font-size="10" fill="#000" stroke="#000" stroke-width="0.12" textLength="46" lengthAdjust="spacingAndGlyphs">1 Oct 2020</text>
<text x="961" y="803" font-size="10" fill="#000" stroke="#000" stroke-width="0.12" textLength="51" lengthAdjust="spacingAndGlyphs">10 Oct 2020</text>
<text x="1025" y="803" font-size="10" fill="#000" stroke="#000" stroke-width="0.12" textLength="51" lengthAdjust="spacingAndGlyphs">20 Oct 2020</text>
<text x="1089" y="803" font-size="10" fill="#000" stroke="#000" stroke-width="0.12" textLength="51" lengthAdjust="spacingAndGlyphs">29 Oct 2020</text>
<text x="1153" y="803" font-size="10" fill="#000" stroke="#000" stroke-width="0.12" textLength="49" lengthAdjust="spacingAndGlyphs">7 Nov 2020</text>
<text x="1217" y="803" font-size="10" fill="#000" stroke="#000" stroke-width="0.12" textLength="54" lengthAdjust="spacingAndGlyphs">17 Nov 2020</text>
<g shape-rendering="crispEdges">
<rect x="0" y="811" width="1637" height="1" fill="#e3e3e3"/>
<rect x="0" y="812" width="1637" height="1" fill="#f8f8f8"/>
<rect x="0" y="813" width="1637" height="19" fill="#f0f0f0"/>
<rect x="0" y="832" width="1637" height="2" fill="#fafafa"/>
<rect x="0" y="834" width="1637" height="3" fill="#f0f0f0"/>
<rect x="0" y="837" width="1637" height="1" fill="#a0a0a0"/>
<rect x="0" y="813" width="1637" height="1" fill="#000"/>
<rect x="4" y="813" width="102" height="18" fill="#fff"/>
<rect x="3" y="813" width="1" height="19" fill="#000"/>
<rect x="106" y="813" width="1" height="19" fill="#000"/>
<rect x="3" y="831" width="104" height="1" fill="#000"/>
<rect x="207" y="816" width="1" height="14" fill="#808080"/>
<rect x="311" y="816" width="1" height="14" fill="#808080"/>
<rect x="415" y="816" width="1" height="14" fill="#808080"/>
<rect x="519" y="816" width="1" height="14" fill="#808080"/>
<rect x="623" y="816" width="1" height="14" fill="#808080"/>
<rect x="715" y="816" width="1" height="14" fill="#808080"/>
<rect x="819" y="816" width="1" height="14" fill="#808080"/>
<rect x="891" y="816" width="1" height="14" fill="#808080"/>
<rect x="971" y="816" width="1" height="14" fill="#808080"/>
<rect x="1051" y="816" width="1" height="14" fill="#808080"/>
<rect x="1131" y="816" width="1" height="14" fill="#808080"/>
<rect x="1207" y="816" width="1" height="14" fill="#808080"/>
<rect x="1279" y="816" width="1" height="14" fill="#808080"/>
<rect x="1363" y="816" width="1" height="14" fill="#808080"/>
<rect x="1443" y="816" width="1" height="14" fill="#808080"/>
<rect x="1543" y="816" width="1" height="14" fill="#808080"/>
<polygon points="1613,819 1613,825 1610,822" fill="#a0a0a0" shape-rendering="auto"/>
<polygon points="1629,819 1629,825 1632.5,822" fill="#000" shape-rendering="auto"/>
</g>
<text x="14.8" y="828" font-size="12.5" fill="#000" stroke="#000" stroke-width="0" textLength="80.6" lengthAdjust="spacingAndGlyphs">EURUSD,Daily</text>
<text x="116.6" y="828" font-size="12.5" fill="#808080" stroke="#808080" stroke-width="0" textLength="79.4" lengthAdjust="spacingAndGlyphs">USDCHF,Daily</text>
<text x="217.2" y="828" font-size="12.5" fill="#808080" stroke="#808080" stroke-width="0" textLength="83.2" lengthAdjust="spacingAndGlyphs">AUDUSD,Daily</text>
<text x="321.6" y="828" font-size="12.5" fill="#808080" stroke="#808080" stroke-width="0" textLength="82.0" lengthAdjust="spacingAndGlyphs">USDCAD,Daily</text>
<text x="424.4" y="828" font-size="12.5" fill="#808080" stroke="#808080" stroke-width="0" textLength="83.8" lengthAdjust="spacingAndGlyphs">USDCNH,Daily</text>
<text x="530.2" y="828" font-size="12.5" fill="#808080" stroke="#808080" stroke-width="0" textLength="81.4" lengthAdjust="spacingAndGlyphs">EURUSD,Daily</text>
<text x="634.1" y="828" font-size="12.5" fill="#808080" stroke="#808080" stroke-width="0" textLength="69.2" lengthAdjust="spacingAndGlyphs">GBPUSD,H4</text>
<text x="725.2" y="828" font-size="12.5" fill="#808080" stroke="#808080" stroke-width="0" textLength="82.2" lengthAdjust="spacingAndGlyphs">XAUUSD,Daily</text>
<text x="829.3" y="828" font-size="12.5" fill="#808080" stroke="#808080" stroke-width="0" textLength="51.0" lengthAdjust="spacingAndGlyphs">HK50,H1</text>
<text x="901.7" y="828" font-size="12.5" fill="#808080" stroke="#808080" stroke-width="0" textLength="57.1" lengthAdjust="spacingAndGlyphs">UK100,H1</text>
<text x="981.8" y="828" font-size="12.5" fill="#808080" stroke="#808080" stroke-width="0" textLength="57.1" lengthAdjust="spacingAndGlyphs">UK100,H1</text>
<text x="1061.3" y="828" font-size="12.5" fill="#808080" stroke="#808080" stroke-width="0" textLength="58.1" lengthAdjust="spacingAndGlyphs">GER30,H1</text>
<text x="1140.6" y="828" font-size="12.5" fill="#808080" stroke="#808080" stroke-width="0" textLength="55.3" lengthAdjust="spacingAndGlyphs">FRA40,H1</text>
<text x="1216.5" y="828" font-size="12.5" fill="#808080" stroke="#808080" stroke-width="0" textLength="51.8" lengthAdjust="spacingAndGlyphs">USOil,H4</text>
<text x="1288.3" y="828" font-size="12.5" fill="#808080" stroke="#808080" stroke-width="0" textLength="63.8" lengthAdjust="spacingAndGlyphs">USDJPY,H1</text>
<text x="1372.5" y="828" font-size="12.5" fill="#808080" stroke="#808080" stroke-width="0" textLength="60.2" lengthAdjust="spacingAndGlyphs">DJ30,Daily</text>
<text x="1452.5" y="828" font-size="12.5" fill="#808080" stroke="#808080" stroke-width="0" textLength="79.4" lengthAdjust="spacingAndGlyphs">CHINA300,H1</text>
<text x="1552.6" y="828" font-size="12.5" fill="#808080" stroke="#808080" stroke-width="0" textLength="51.1" lengthAdjust="spacingAndGlyphs">USOil,H1</text>
</svg></body></html>
